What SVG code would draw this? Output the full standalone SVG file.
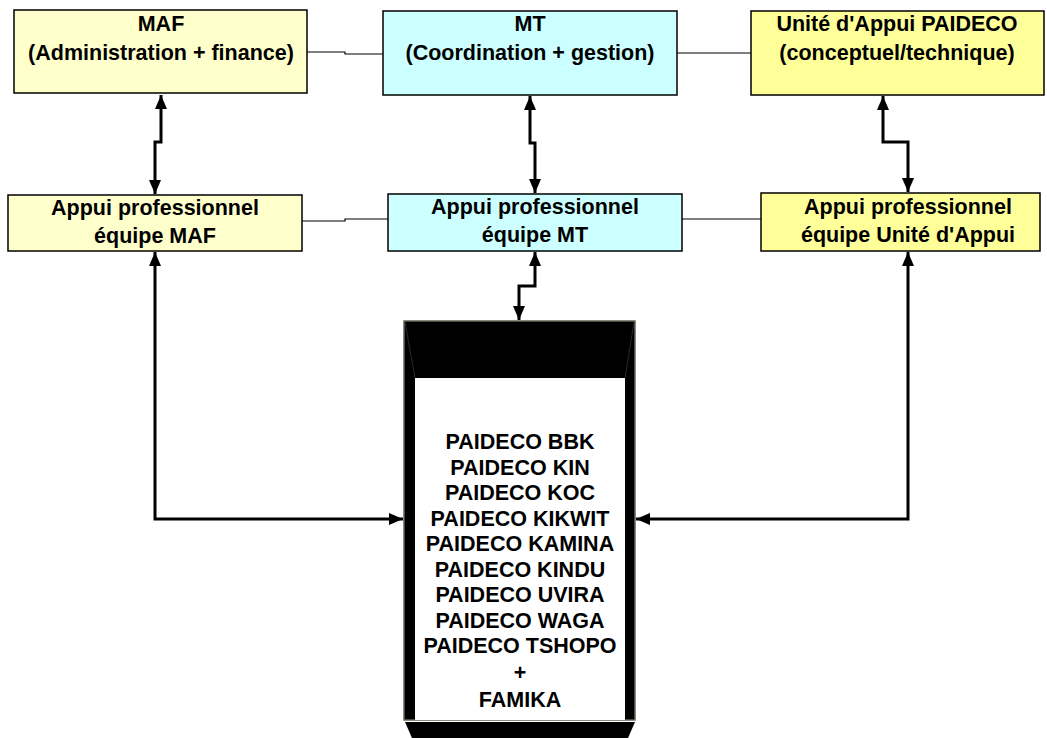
<svg xmlns="http://www.w3.org/2000/svg" width="1047" height="738" viewBox="0 0 1047 738">
<style>
.t{font-family:"Liberation Sans",Arial,sans-serif;font-weight:bold;font-size:21.5px;fill:#000;text-anchor:middle}
.thin{fill:none;stroke:#000;stroke-width:1.2}
.thick{fill:none;stroke:#000;stroke-width:3}
.box{stroke:#000;stroke-width:1.5}
</style>
<defs>
<marker id="ah" viewBox="0 0 14 12" refX="14" refY="6" markerWidth="14" markerHeight="12" markerUnits="userSpaceOnUse" orient="auto-start-reverse">
<path d="M0,0 L14,6 L0,12 Z" fill="#000"/>
</marker>
</defs>
<g id="connectors">
<polyline class="thin" points="307,52 345,52 345,54 383,54"/>
<line class="thin" x1="677" y1="53" x2="751" y2="53"/>
<polyline class="thin" points="302,221 345,221 345,219 388,219"/>
<line class="thin" x1="682" y1="219" x2="761" y2="219"/>
<polyline class="thick" points="161,95 161,142 155,142 155,194" marker-start="url(#ah)" marker-end="url(#ah)"/>
<polyline class="thick" points="530,96 530,143 535,143 535,193" marker-start="url(#ah)" marker-end="url(#ah)"/>
<polyline class="thick" points="883,96 883,142 908,142 908,192" marker-start="url(#ah)" marker-end="url(#ah)"/>
<polyline class="thick" points="155,252 155,519 403,519" marker-start="url(#ah)" marker-end="url(#ah)"/>
<polyline class="thick" points="908,252 908,519 636,519" marker-start="url(#ah)" marker-end="url(#ah)"/>
<polyline class="thick" points="535,252 535,286 519,286 519,320" marker-start="url(#ah)" marker-end="url(#ah)"/>
</g>
<g id="maf">
<rect class="box" x="14" y="10" width="293" height="83" fill="#FFFFCC"/>
<text class="t" x="161" y="31">MAF</text>
<text class="t" x="161" y="60">(Administration + finance)</text>
</g>
<g id="mt">
<rect class="box" x="383" y="11" width="294" height="84" fill="#CCFFFF"/>
<text class="t" x="530" y="31">MT</text>
<text class="t" x="530" y="60">(Coordination + gestion)</text>
</g>
<g id="unite">
<rect class="box" x="751" y="11" width="293" height="84" fill="#FFFF99"/>
<text class="t" x="897" y="31">Unité d'Appui PAIDECO</text>
<text class="t" x="897" y="60">(conceptuel/technique)</text>
</g>
<g id="appui-maf">
<rect class="box" x="8" y="195" width="294" height="56" fill="#FFFFCC"/>
<text class="t" x="155" y="215">Appui professionnel</text>
<text class="t" x="155" y="243">équipe MAF</text>
</g>
<g id="appui-mt">
<rect class="box" x="388" y="194" width="294" height="57" fill="#CCFFFF"/>
<text class="t" x="535" y="214">Appui professionnel</text>
<text class="t" x="535" y="242">équipe MT</text>
</g>
<g id="appui-unite">
<rect class="box" x="761" y="193" width="279" height="58" fill="#FFFF99"/>
<text class="t" x="908" y="214">Appui professionnel</text>
<text class="t" x="908" y="242">équipe Unité d'Appui</text>
</g>
<g id="paideco">
<rect x="404" y="321" width="231" height="399" fill="#000" stroke="#666655" stroke-width="1.5"/>
<path d="M405,722 L635,722 L628,738 L412,738 Z" fill="#000"/>
<line x1="405" y1="322" x2="415" y2="378" stroke="#333" stroke-width="0.8"/>
<line x1="634" y1="322" x2="625" y2="378" stroke="#333" stroke-width="0.8"/>
<rect x="415" y="378" width="210" height="342" fill="#fff"/>
<text class="t" x="520" y="449">PAIDECO BBK</text>
<text class="t" x="520" y="475">PAIDECO KIN</text>
<text class="t" x="520" y="500">PAIDECO KOC</text>
<text class="t" x="520" y="526">PAIDECO KIKWIT</text>
<text class="t" x="520" y="551">PAIDECO KAMINA</text>
<text class="t" x="520" y="577">PAIDECO KINDU</text>
<text class="t" x="520" y="602">PAIDECO UVIRA</text>
<text class="t" x="520" y="628">PAIDECO WAGA</text>
<text class="t" x="520" y="653">PAIDECO TSHOPO</text>
<text class="t" x="520" y="680">+</text>
<text class="t" x="520" y="707">FAMIKA</text>
</g>
</svg>
